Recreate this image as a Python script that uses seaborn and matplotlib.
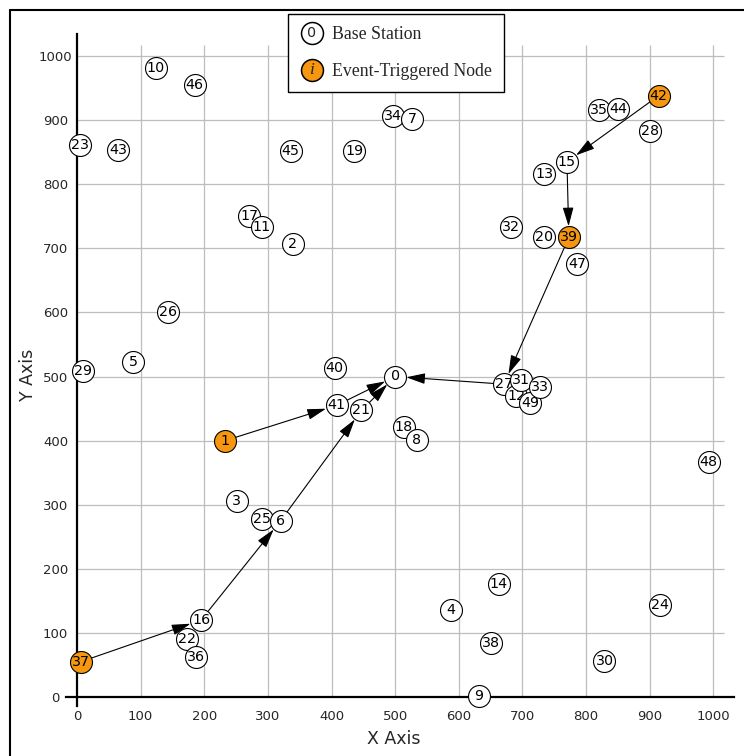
import matplotlib
matplotlib.use("Agg")
import matplotlib.pyplot as plt
import seaborn as sns
import pandas as pd
from matplotlib.lines import Line2D
from matplotlib.text import Text
from matplotlib.legend_handler import HandlerBase

# ---------------- data ----------------
node_id = list(range(50))
node_x = [500, 233, 339, 251, 587, 88, 320, 527, 534, 631,
          124, 290, 690, 734, 663, 770, 195, 271, 514, 436,
          734, 447, 173, 5, 917, 290, 143, 671, 900, 9,
          829, 697, 682, 727, 497, 821, 187, 6, 651, 773,
          405, 408, 914, 65, 851, 336, 185, 786, 993, 712]
node_y = [500, 400, 706, 306, 136, 522, 275, 902, 401, 1,
          982, 733, 470, 816, 176, 835, 120, 750, 421, 852,
          717, 447, 91, 861, 144, 277, 600, 488, 883, 509,
          56, 494, 733, 483, 906, 916, 63, 55, 84, 717,
          514, 455, 938, 853, 917, 852, 954, 675, 367, 459]
event_nodes = [1, 37, 39, 42]

edge_src = [37, 16, 6, 21, 1, 41, 42, 15, 39, 27]
edge_dst = [16, 6, 21, 0, 41, 0, 15, 39, 27, 0]

x_ticks = [0, 100, 200, 300, 400, 500, 600, 700, 800, 900, 1000]
y_ticks = [0, 100, 200, 300, 400, 500, 600, 700, 800, 900, 1000]

legend_labels = ["Base Station", "Event-Triggered Node"]
legend_symbols = ["0", "i"]

ORANGE = "#F7960F"

# ---------------- figure ----------------
sns.set_style("white")
plt.rcParams["font.family"] = ["DejaVu Sans"]

W, H = 744, 756
fig = plt.figure(figsize=(W / 100, H / 100), dpi=100)
xlim = (-30, 1040)
ylim = (-30, 1045)
pxx = 0.6363
pxy = 0.641
left_px = 77 - (0 - xlim[0]) * pxx
bottom_px = 697 + (0 - ylim[0]) * pxy
ax = fig.add_axes([left_px / W, (H - bottom_px) / H,
                   (xlim[1] - xlim[0]) * pxx / W, (ylim[1] - ylim[0]) * pxy / H])
ax.set_xlim(*xlim)
ax.set_ylim(*ylim)

df = pd.DataFrame({"id": node_id, "x": node_x, "y": node_y})
df["event"] = df["id"].isin(event_nodes)
df = df.sort_values("x", kind="stable").reset_index(drop=True)

# grid
grid_col = "#BDBDBD"
ax.vlines(x_ticks[1:], 0, 1017, color=grid_col, lw=0.9, zorder=0.5)
ax.hlines(y_ticks[1:], 0, 1017, color=grid_col, lw=0.9, zorder=0.5)

# spines
for s in ["top", "right"]:
    ax.spines[s].set_visible(False)
ax.spines["left"].set_position(("data", 0))
ax.spines["bottom"].set_position(("data", 0))
ax.spines["left"].set_bounds(-14, 1034)
ax.spines["bottom"].set_bounds(-17, 1033)
for s in ["left", "bottom"]:
    ax.spines[s].set_linewidth(1.6)
    ax.spines[s].set_color("black")
    ax.spines[s].set_zorder(1)

ax.set_xticks(x_ticks)
ax.set_yticks(y_ticks)
ax.tick_params(axis="x", length=0, pad=9, labelsize=9.5)
ax.tick_params(axis="y", length=0, pad=15.5, labelsize=9.5)
plt.setp(ax.get_yticklabels(), ha="center")

# arrows
pos = {i: (x, y) for i, x, y in zip(node_id, node_x, node_y)}
for s, d in zip(edge_src, edge_dst):
    ax.annotate("", xy=pos[d], xytext=pos[s],
                arrowprops=dict(arrowstyle="-|>,head_length=1.05,head_width=0.3",
                                color="black", lw=0.8, shrinkA=8, shrinkB=8,
                                mutation_scale=11),
                zorder=2)

# nodes (drawn left to right; each label just above its own circle)
for k, row in df.iterrows():
    z = 3 + 2 * k
    sns.scatterplot(x=[row["x"]], y=[row["y"]], ax=ax, s=250,
                    color=ORANGE if row["event"] else "white",
                    edgecolor="black", linewidth=0.8, zorder=z, legend=False)
    ax.text(row["x"], row["y"], str(row["id"]), ha="center", va="center",
            fontsize=10.3, color="black", zorder=z + 1)

# axis labels
ax.set_xlabel("X Axis", fontsize=12.5)
ax.set_ylabel("Y Axis", fontsize=12.5)
ax.xaxis.set_label_coords((394 - left_px) / ((xlim[1] - xlim[0]) * pxx),
                          (bottom_px - 739) / ((ylim[1] - ylim[0]) * pxy))
ax.yaxis.set_label_coords((28 - left_px) / ((xlim[1] - xlim[0]) * pxx),
                          (bottom_px - 375) / ((ylim[1] - ylim[0]) * pxy))
ax.xaxis.label.set_verticalalignment("center")
ax.yaxis.label.set_verticalalignment("center")


# legend with circle+text symbols
class CircleTextHandler(HandlerBase):
    def __init__(self, face, symbol, font):
        super().__init__()
        self.face = face
        self.symbol = symbol
        self.font = font

    def create_artists(self, legend, orig_handle, xdescent, ydescent,
                       width, height, fontsize, trans):
        cx = width / 2 - xdescent
        cy = height / 2 - ydescent
        circ = Line2D([cx], [cy], marker="o", ms=15.8, mfc=self.face,
                      mec="black", mew=1.1, ls="none", transform=trans)
        txt = Text(cx, cy, self.symbol, ha="center", va="center",
                   transform=trans, **self.font)
        return [circ, txt]


h0 = Line2D([], [])
h1 = Line2D([], [])
leg = fig.legend(
    [h0, h1], legend_labels,
    handler_map={
        h0: CircleTextHandler("white", legend_symbols[0],
                              dict(fontsize=10.3, family="DejaVu Sans")),
        h1: CircleTextHandler(ORANGE, legend_symbols[1],
                              dict(fontsize=12.5, family="Liberation Serif", style="italic")),
    },
    loc="upper left", bbox_to_anchor=(288 / W, 1 - 14 / H),
    bbox_transform=fig.transFigure, borderaxespad=0,
    prop={"family": "Liberation Serif", "size": 12.8},
    frameon=True, fancybox=False, framealpha=1, edgecolor="black",
    borderpad=0.7, labelspacing=1.1, handlelength=1.25, handletextpad=0.5,
)
leg.get_frame().set_linewidth(1.0)
leg.set_zorder(200)

# outer frame (left and top only)
fig.add_artist(Line2D([10 / W, 10 / W], [0, 1 - 10 / H], color="black", lw=1.5,
                      transform=fig.transFigure))
fig.add_artist(Line2D([10 / W, 1], [1 - 10 / H, 1 - 10 / H], color="black", lw=1.5,
                      transform=fig.transFigure))

fig.savefig("out.png", dpi=100)
